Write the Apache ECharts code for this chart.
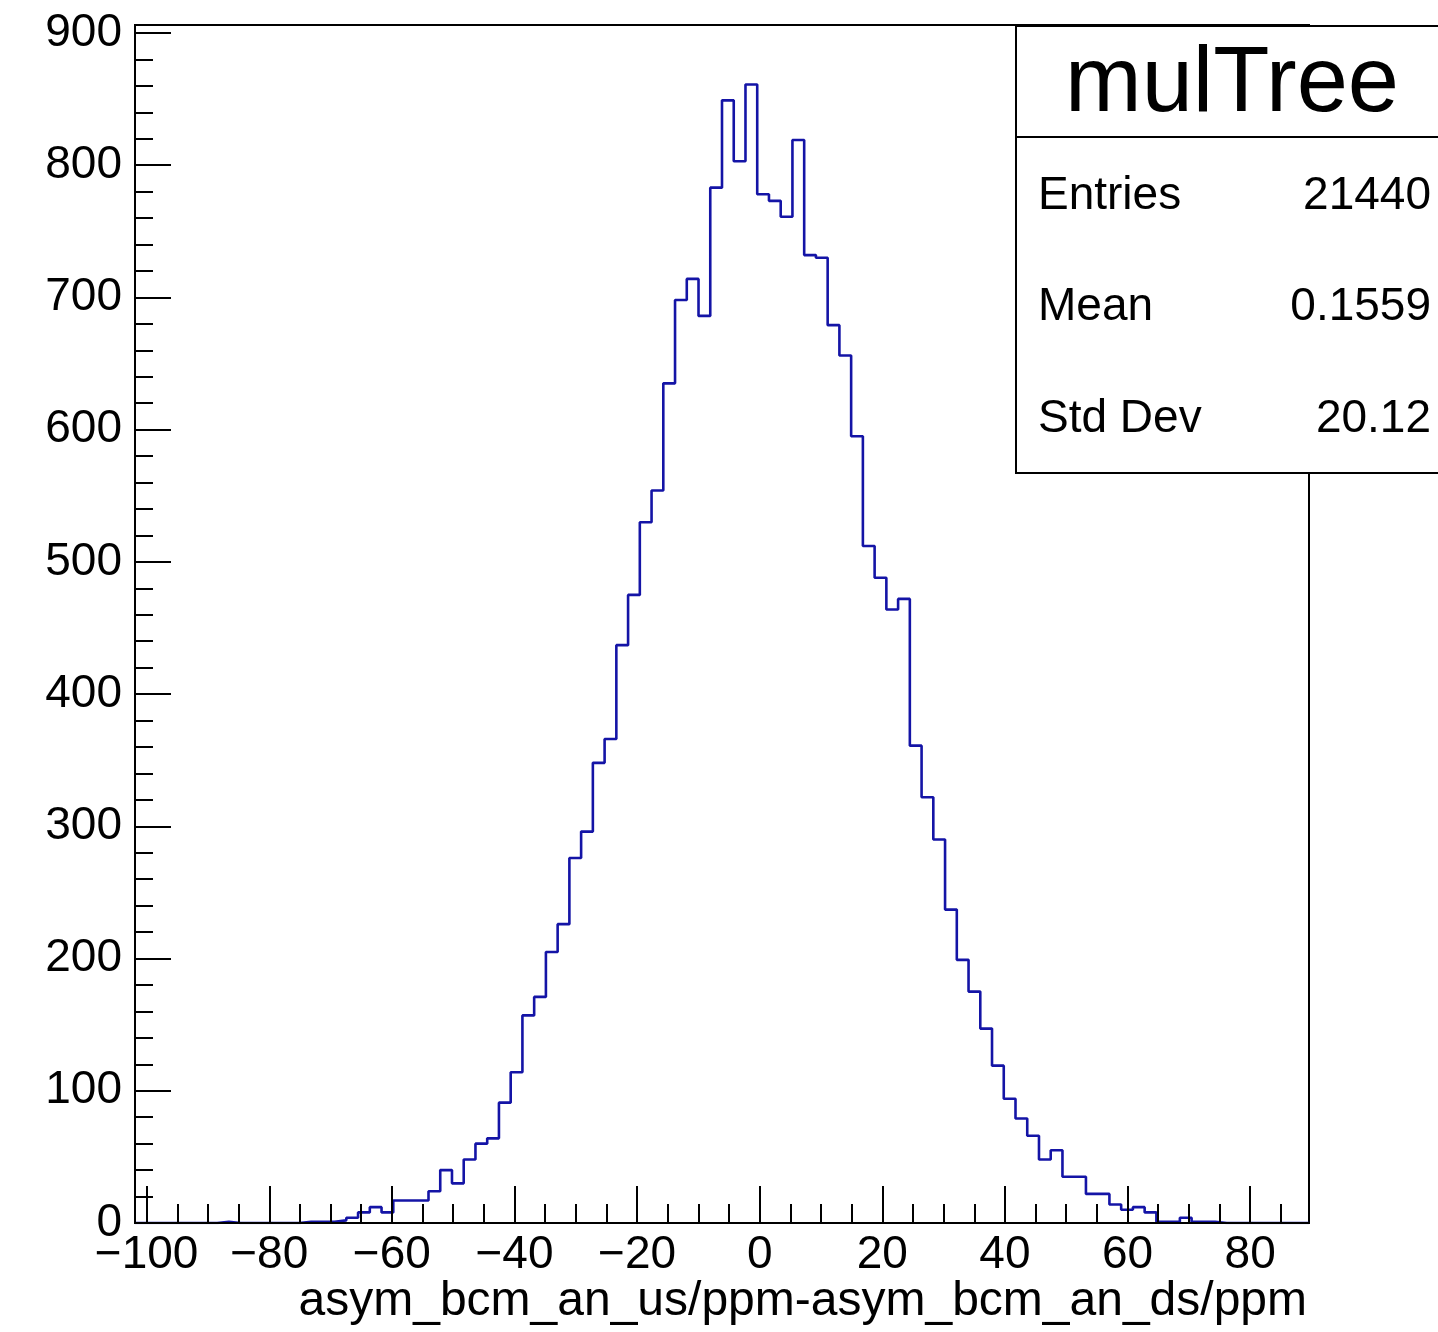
<!DOCTYPE html>
<html>
<head>
<meta charset="utf-8">
<script src="https://cdn.jsdelivr.net/npm/echarts@6/dist/echarts.min.js"></script>
<style>
html,body{margin:0;padding:0;background:#fff;}
#chart{width:1438px;height:1332px;}
</style>
</head>
<body>
<div id="chart"></div>
<script>
// ---- data ----
const xMin = -101.9;          // lower edge of first bin
const xMax = 89.6;            // upper edge of last bin
const nBins = 100;
const counts = [
  0, 0, 0, 0, 0, 0, 0, 1, 0, 0,
  0, 0, 0, 0, 1, 1, 1, 2, 4, 8,
  12, 8, 17, 17, 17, 24, 40, 30, 48, 60,
  64, 91, 114, 157, 171, 205, 226, 276, 296, 348,
  366, 437, 475, 530, 554, 635, 698, 714, 686, 783,
  849, 803, 861, 778, 773, 761, 819, 732, 730, 679,
  656, 595, 512, 488, 464, 472, 361, 322, 290, 237,
  199, 175, 147, 119, 94, 79, 66, 48, 55, 35,
  35, 22, 22, 14, 10, 12, 8, 1, 1, 4,
  1, 1, 0, 0, 0, 0, 0, 0, 0, 0
];
const xMajorTicks = [-100, -80, -60, -40, -20, 0, 20, 40, 60, 80];
const xMinorTicks = [-100,-95,-90,-85,-80,-75,-70,-65,-60,-55,-50,-45,-40,-35,-30,-25,-20,-15,-10,-5,0,5,10,15,20,25,30,35,40,45,50,55,60,65,70,75,80,85];
const yMax = 906;
const yMajorTicks = [0, 100, 200, 300, 400, 500, 600, 700, 800, 900];
const yMinorTicks = [0,20,40,60,80,100,120,140,160,180,200,220,240,260,280,300,320,340,360,380,400,420,440,460,480,500,520,540,560,580,600,620,640,660,680,700,720,740,760,780,800,820,840,860,880,900];
const xTitle = 'asym_bcm_an_us/ppm-asym_bcm_an_ds/ppm';
const histName = 'mulTree';
const statNames = ['Entries', 'Mean', 'Std Dev'];
const statValues = ['21440', '0.1559', '20.12'];

// ---- build ----
const binWidth = (xMax - xMin) / nBins;
const stepData = [];
for (let i = 0; i < nBins; i++) stepData.push([xMin + i * binWidth, counts[i]]);
stepData.push([xMax, counts[nBins - 1]]);

const FONT = '"Liberation Sans", Arial, Helvetica, sans-serif';
const tickStyle = {color: '#000', width: 2};
const fmtMinus = v => String(v).replace('-', '\u2212');

const chart = echarts.init(document.getElementById('chart'), null, {renderer: 'canvas'});

const statTexts = [];
const rowY = [196, 307, 419];
statNames.forEach((n, i) => {
  statTexts.push({type: 'text', z: 101, style: {x: 1038, y: rowY[i], text: n, font: '46px ' + FONT, fill: '#000', align: 'left', verticalAlign: 'middle'}});
  statTexts.push({type: 'text', z: 101, style: {x: 1431, y: rowY[i], text: statValues[i], font: '46px ' + FONT, fill: '#000', align: 'right', verticalAlign: 'middle'}});
});

chart.setOption({
  animation: false,
  backgroundColor: '#fff',
  grid: {left: 135, right: 129, top: 25, bottom: 109, show: true, borderColor: '#000', borderWidth: 2, backgroundColor: 'transparent'},
  xAxis: [
    {
      type: 'value', min: xMin, max: xMax, position: 'bottom', z: 5,
      axisLine: {show: true, onZero: false, lineStyle: {color: '#000', width: 2}},
      axisTick: {show: true, inside: true, length: 37, customValues: xMajorTicks, lineStyle: tickStyle},
      axisLabel: {show: true, customValues: xMajorTicks, formatter: fmtMinus, margin: 9, fontSize: 46, fontFamily: FONT, color: '#000'},
      splitLine: {show: false}
    },
    {
      type: 'value', min: xMin, max: xMax, position: 'bottom', z: 5,
      axisLine: {show: false, onZero: false},
      axisTick: {show: true, inside: true, length: 19, customValues: xMinorTicks, lineStyle: tickStyle},
      axisLabel: {show: false},
      splitLine: {show: false}
    }
  ],
  yAxis: [
    {
      type: 'value', min: 0, max: yMax, position: 'left', z: 5,
      axisLine: {show: true, onZero: false, lineStyle: {color: '#000', width: 2}},
      axisTick: {show: true, inside: true, length: 36, customValues: yMajorTicks, lineStyle: tickStyle},
      axisLabel: {show: true, customValues: yMajorTicks, margin: 13, fontSize: 46, fontFamily: FONT, color: '#000'},
      splitLine: {show: false}
    },
    {
      type: 'value', min: 0, max: yMax, position: 'left', z: 5,
      axisLine: {show: false, onZero: false},
      axisTick: {show: true, inside: true, length: 18, customValues: yMinorTicks, lineStyle: tickStyle},
      axisLabel: {show: false},
      splitLine: {show: false}
    }
  ],
  series: [{
    type: 'line', xAxisIndex: 0, yAxisIndex: 0, step: 'end', symbol: 'none', z: 2,
    lineStyle: {color: '#1414a6', width: 2.6},
    data: stepData
  }],
  graphic: [
    {type: 'text', z: 100, style: {x: 1307, y: 1302, text: xTitle, font: '48px ' + FONT, fill: '#000', align: 'right', verticalAlign: 'middle'}},
    {type: 'rect', z: 100, shape: {x: 1016, y: 26, width: 440, height: 447}, style: {fill: '#fff', stroke: '#000', lineWidth: 2}},
    {type: 'line', z: 101, shape: {x1: 1016, y1: 137, x2: 1456, y2: 137}, style: {stroke: '#000', lineWidth: 2}},
    {type: 'text', z: 101, style: {x: 1232, y: 86, text: histName, font: '92px ' + FONT, fill: '#000', align: 'center', verticalAlign: 'middle'}}
  ].concat(statTexts)
});
</script>
</body>
</html>
